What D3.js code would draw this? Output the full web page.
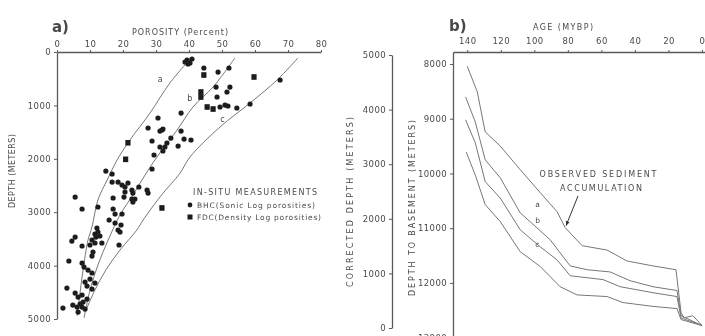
<!DOCTYPE html>
<html>
<head>
<meta charset="utf-8">
<script src="https://cdn.jsdelivr.net/npm/d3@7"></script>
<style>
  body { margin: 0; background: #fff; }
  svg text { font-family: "DejaVu Sans", sans-serif; fill: #4a4a4a; }
</style>
</head>
<body>
<div id="chart"></div>
<script>
const porosityTicks = [0, 10, 20, 30, 40, 50, 60, 70, 80];
const depthTicks = [0, 1000, 2000, 3000, 4000, 5000];
const ageTicks = [140, 120, 100, 80, 60, 40, 20, 0];
const basementTicks = [8000, 9000, 10000, 11000, 12000, 13000];
const correctedTicks = [0, 1000, 2000, 3000, 4000, 5000];

// a) in-situ measurements, [porosity %, depth m]
const bhcPoints = [
  [39.4,150],[40.3,206],[40.9,131],[39.7,225],[38.8,187],[44.5,300],[48.8,375],[52.1,300],[67.6,524],
  [48.2,656],[52.4,656],[51.5,749],[48.5,843],[49.4,1030],[50.9,993],[51.8,1011],[54.5,1049],[58.5,974],
  [37.6,1143],[30.6,1236],[27.6,1423],[31.8,1461],[31.2,1480],[32.1,1442],[37.6,1480],[34.5,1611],[28.8,1667],
  [38.5,1630],[40.6,1648],[31.2,1779],[32.7,1779],[33.3,1704],[32.1,1854],[36.7,1761],[29.4,1929],[28.8,2191],
  [14.8,2229],[16.7,2285],[16.7,2435],[18.5,2435],[19.7,2491],[20.6,2528],[21.5,2453],[22.7,2585],[20.6,2622],
  [23.0,2641],[24.8,2528],[27.3,2585],[27.6,2641],[17.0,2734],[20.3,2716],[22.7,2753],[23.6,2753],[23.0,2809],
  [5.5,2716],[7.6,2940],[12.4,2903],[17.0,2940],[17.6,3034],[19.7,3034],[15.8,3146],[17.6,3202],[19.4,3240],
  [18.5,3334],[12.1,3296],[12.4,3371],[11.5,3408],[11.8,3465],[13.0,3446],[19.1,3371],[18.8,3614],
  [5.5,3465],[4.5,3540],[10.6,3521],[11.5,3577],[13.6,3577],[7.6,3633],[10.0,3614],[10.9,3746],[10.6,3821],
  [3.6,3914],[7.6,3952],[8.2,4027],[9.4,4083],[10.6,4139],[3.0,4420],[8.5,4308],[9.1,4383],[10.6,4439],
  [11.5,4327],[10.0,4252],[5.5,4514],[6.4,4589],[7.6,4551],[9.1,4626],[7.9,4683],[4.8,4739],[6.1,4776],
  [7.6,4776],[8.5,4814],[1.8,4795],[6.4,4870],[7.0,4720]
];
const fdcPoints = [
  [44.5,431],[59.7,468],[43.6,749],[43.6,843],[45.5,1030],[47.3,1068],[21.5,1700],[20.8,2010],[31.8,2920]
];

// a) porosity-depth curves
const porCurveA = [[40.9,94],[34.2,581],[28.2,1142],[22.1,1648],[18.2,2022],[15.2,2397],[12.4,2772],[10.6,3277],[9.4,3521],[7.9,4082],[6.7,4644],[6.1,4944]];
const porCurveB = [[53.9,112],[47.3,655],[41.2,1030],[36.4,1461],[30.3,1966],[26.7,2303],[23.0,2678],[19.1,3052],[15.5,3521],[12.4,3989],[10.0,4457],[8.2,4981]];
const porCurveC = [[73.0,112],[66.7,524],[58.5,955],[49.4,1404],[40.3,1966],[37.3,2266],[31.2,2715],[26.1,3146],[24.2,3333],[19.1,3708],[14.8,4082],[11.5,4457],[8.8,4831]];
const porLabels = [["a",30.5,560],["b",39.5,920],["c",49.5,1310]];

// b) depth to basement, [age Ma, depth m]
const observed = [[140,8040],[134,8510],[129.3,9240],[120.3,9500],[108.4,9930],[96.5,10350],[86.4,10700],[81.6,10990],[71.5,11320],[56.6,11400],[44.7,11600],[29.2,11690],[15.5,11760],[12.5,12540],[10.7,12640],[5.4,12600],[0,12780]];
const subsA = [[141,8600],[135.2,9060],[129.3,9750],[120.3,10080],[108.4,10720],[90.6,11210],[78.6,11690],[68.5,11760],[54.8,11800],[42.9,11960],[29.2,12070],[14.9,12140],[12.5,12600],[0,12780]];
const subsB = [[141,9020],[135.2,9440],[129.3,10150],[120.3,10450],[108.4,11030],[96.5,11340],[86.4,11580],[78.6,11870],[59,11940],[48.8,12070],[29.2,12180],[14.9,12250],[12.5,12640],[0,12780]];
const subsC = [[140.6,9610],[135.2,10030],[129.3,10570],[120.3,10880],[108.4,11430],[96.5,11700],[84.6,12070],[74.5,12220],[56.6,12250],[47.1,12360],[29.2,12430],[14.9,12470],[12.5,12670],[0,12780]];
const subsLabels = [["a",99.5,10620],["b",99.5,10910],["c",99.5,11350]];

const width = 705, height = 336;
const ink = "#5a5a5a";
const fmt = d3.format("d");

const svg = d3.select("#chart").append("svg")
  .attr("width", width)
  .attr("height", height);

const defs = svg.append("defs");
defs.append("filter").attr("id", "soft")
  .append("feGaussianBlur").attr("stdDeviation", 0.35);
defs.append("marker").attr("id", "arrow")
  .attr("viewBox", "0 0 10 10").attr("refX", 9).attr("refY", 5)
  .attr("markerWidth", 5).attr("markerHeight", 5).attr("orient", "auto")
  .append("path").attr("d", "M0,1L10,5L0,9z").attr("fill", "#333");

const fig = svg.append("g").attr("filter", "url(#soft)");

function styleAxis(g, size) {
  g.select(".domain").attr("stroke", ink).attr("stroke-width", 1.3);
  g.selectAll(".tick line").attr("stroke", ink);
  g.selectAll(".tick text").attr("font-size", size).attr("fill", "#4a4a4a")
    .attr("font-family", "DejaVu Sans, sans-serif").attr("letter-spacing", 0.4);
}

// ---------- panel a ----------
const xPor = d3.scaleLinear().domain([0, 80]).range([57, 321]);
const yDep = d3.scaleLinear().domain([0, 5000]).range([52, 319]);

fig.append("g").attr("transform", `translate(0,${yDep(0)})`)
  .call(d3.axisTop(xPor).tickValues(porosityTicks).tickFormat(fmt).tickSize(2).tickSizeOuter(0).tickPadding(3))
  .call(g => styleAxis(g, 8.5));

fig.append("g").attr("transform", `translate(${xPor(0)},0)`)
  .call(d3.axisLeft(yDep).tickValues(depthTicks).tickFormat(fmt).tickSize(3).tickSizeOuter(0).tickPadding(3))
  .call(g => styleAxis(g, 8.5));

const porLine = d3.line()
  .x(d => xPor(d[0]))
  .y(d => yDep(d[1]))
  .curve(d3.curveCatmullRom);

fig.selectAll(".porcurve")
  .data([porCurveA, porCurveB, porCurveC])
  .enter().append("path")
  .attr("class", "porcurve")
  .attr("d", porLine)
  .attr("fill", "none")
  .attr("stroke", "#777")
  .attr("stroke-width", 1);

fig.selectAll(".porlabel")
  .data(porLabels)
  .enter().append("text")
  .attr("x", d => xPor(d[1]))
  .attr("y", d => yDep(d[2]))
  .attr("font-size", 8)
  .attr("fill", "#888")
  .text(d => d[0]);

fig.selectAll(".bhc")
  .data(bhcPoints)
  .enter().append("circle")
  .attr("cx", d => xPor(d[0]))
  .attr("cy", d => yDep(d[1]))
  .attr("r", 2.6)
  .attr("fill", "#1c1c1c");

fig.selectAll(".fdc")
  .data(fdcPoints)
  .enter().append("rect")
  .attr("x", d => xPor(d[0]) - 2.6)
  .attr("y", d => yDep(d[1]) - 2.8)
  .attr("width", 5.2)
  .attr("height", 5.6)
  .attr("fill", "#1c1c1c");

fig.append("text").attr("x", 52).attr("y", 32)
  .attr("font-size", 15).attr("font-weight", "bold").attr("fill", "#222").text("a)");
fig.append("text").attr("x", 180).attr("y", 35).attr("text-anchor", "middle")
  .attr("font-size", 8).attr("textLength", 96).attr("lengthAdjust", "spacing")
  .text("POROSITY (Percent)");
fig.append("text").attr("transform", "translate(15,171) rotate(-90)")
  .attr("text-anchor", "middle").attr("font-size", 8)
  .attr("textLength", 74).attr("lengthAdjust", "spacing")
  .text("DEPTH (METERS)");

// legend
const legend = fig.append("g");
legend.append("text").attr("x", 193).attr("y", 195).attr("font-size", 8)
  .attr("textLength", 124).attr("lengthAdjust", "spacing").text("IN-SITU MEASUREMENTS");
legend.append("circle").attr("cx", 190).attr("cy", 205).attr("r", 2.4).attr("fill", "#1c1c1c");
legend.append("text").attr("x", 197).attr("y", 208).attr("font-size", 7.5)
  .attr("textLength", 118).attr("lengthAdjust", "spacing").text("BHC(Sonic Log porosities)");
legend.append("rect").attr("x", 187.5).attr("y", 214.5).attr("width", 5).attr("height", 5).attr("fill", "#1c1c1c");
legend.append("text").attr("x", 197).attr("y", 220).attr("font-size", 7.5)
  .attr("textLength", 124).attr("lengthAdjust", "spacing").text("FDC(Density Log porosities)");

// ---------- panel b ----------
const xAge = d3.scaleLinear().domain([148.5, -1.8]).range([453, 705]);
const yBase = d3.scaleLinear().domain([7780, 13300]).range([52, 354]);
const yCorr = d3.scaleLinear().domain([0, 5000]).range([328, 55]);

fig.append("g").attr("transform", `translate(0,${yBase(7780)})`)
  .call(d3.axisTop(xAge).tickValues(ageTicks).tickFormat(fmt).tickSize(2).tickSizeOuter(0).tickPadding(6))
  .call(g => styleAxis(g, 8.5));

fig.append("g").attr("transform", `translate(${xAge(148.5)},0)`)
  .call(d3.axisLeft(yBase).tickValues(basementTicks).tickFormat(fmt).tickSize(3).tickSizeOuter(0).tickPadding(3))
  .call(g => styleAxis(g, 8.5));

fig.append("g").attr("transform", "translate(392,0)")
  .call(d3.axisLeft(yCorr).tickValues(correctedTicks).tickFormat(fmt).tickSize(3).tickSizeOuter(0).tickPadding(3))
  .call(g => styleAxis(g, 8.5));

const subsLine = d3.line()
  .x(d => xAge(d[0]))
  .y(d => yBase(d[1]));

fig.selectAll(".subs")
  .data([observed, subsA, subsB, subsC])
  .enter().append("path")
  .attr("class", "subs")
  .attr("d", subsLine)
  .attr("fill", "none")
  .attr("stroke", "#777")
  .attr("stroke-width", 1);

fig.selectAll(".subslabel")
  .data(subsLabels)
  .enter().append("text")
  .attr("x", d => xAge(d[1]))
  .attr("y", d => yBase(d[2]))
  .attr("font-size", 7.5)
  .attr("fill", "#777")
  .text(d => d[0]);

fig.append("text").attr("x", 449).attr("y", 31)
  .attr("font-size", 15).attr("font-weight", "bold").attr("fill", "#222").text("b)");
fig.append("text").attr("x", 563).attr("y", 30).attr("text-anchor", "middle")
  .attr("font-size", 8).attr("textLength", 60).attr("lengthAdjust", "spacing")
  .text("AGE (MYBP)");
fig.append("text").attr("transform", "translate(353,202) rotate(-90)")
  .attr("text-anchor", "middle").attr("font-size", 8)
  .attr("textLength", 170).attr("lengthAdjust", "spacing")
  .text("CORRECTED DEPTH (METERS)");
fig.append("text").attr("transform", "translate(415,208) rotate(-90)")
  .attr("text-anchor", "middle").attr("font-size", 8)
  .attr("textLength", 176).attr("lengthAdjust", "spacing")
  .text("DEPTH TO BASEMENT (METERS)");

fig.append("text").attr("x", 598).attr("y", 177).attr("text-anchor", "middle")
  .attr("font-size", 8).attr("textLength", 117).attr("lengthAdjust", "spacing")
  .text("OBSERVED SEDIMENT");
fig.append("text").attr("x", 601).attr("y", 191).attr("text-anchor", "middle")
  .attr("font-size", 8).attr("textLength", 82).attr("lengthAdjust", "spacing")
  .text("ACCUMULATION");

// arrow to the observed curve
fig.append("line")
  .attr("x1", 578).attr("y1", 196)
  .attr("x2", xAge(81)).attr("y2", yBase(10950))
  .attr("stroke", "#333").attr("stroke-width", 1)
  .attr("marker-end", "url(#arrow)");
</script>
</body>
</html>
